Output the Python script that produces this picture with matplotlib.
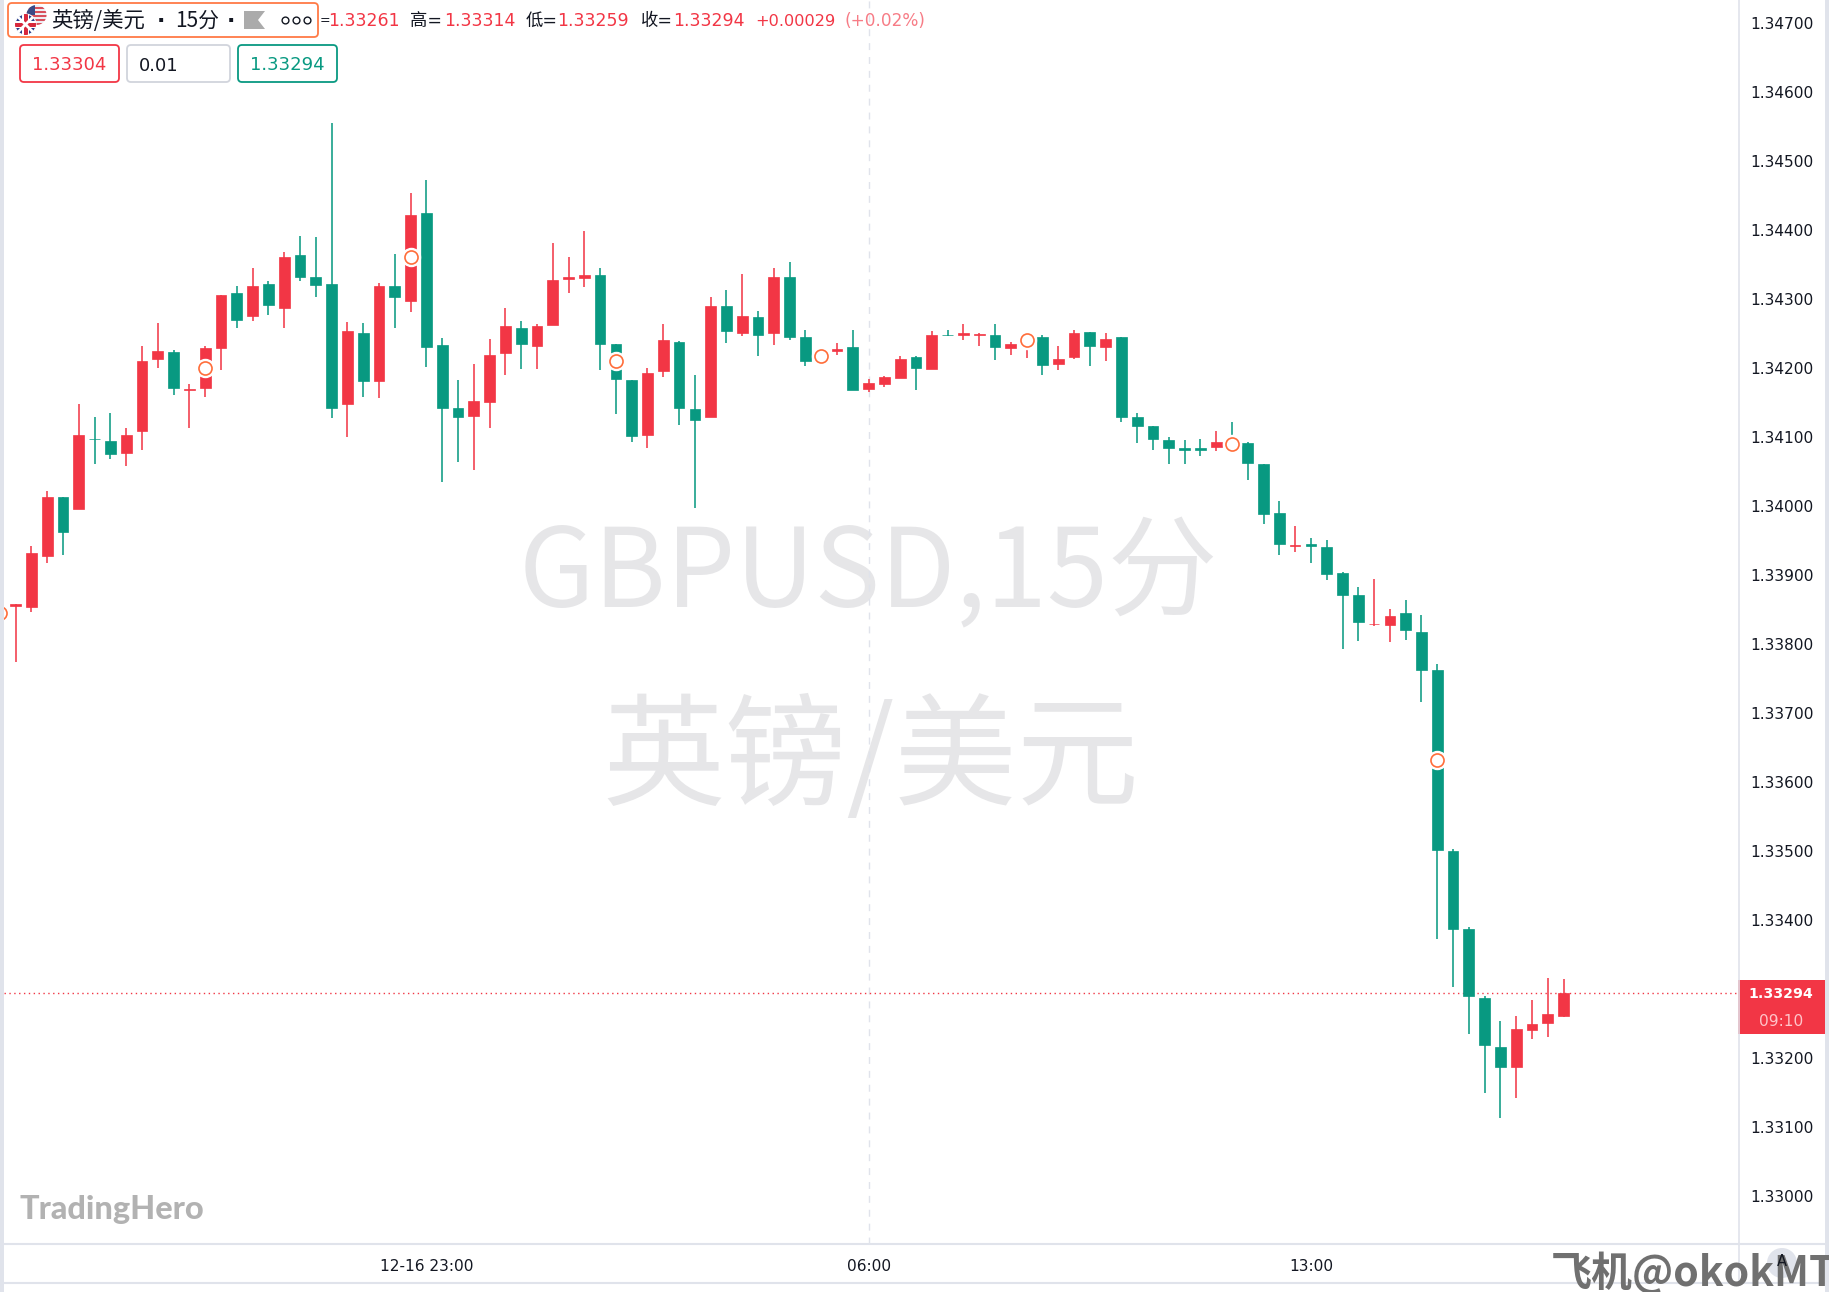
import matplotlib
matplotlib.use('Agg')
import matplotlib.pyplot as plt
from matplotlib.patches import Circle, FancyBboxPatch, Polygon, Rectangle

# 15 minute candles, GBPUSD
opens = [1.33855, 1.33853, 1.33927, 1.34013, 1.33995, 1.34097, 1.34094, 1.34076, 1.34108, 1.34212,
         1.34223, 1.34167, 1.34170, 1.34228, 1.34308, 1.34275, 1.34321, 1.34287, 1.34364, 1.34331,
         1.34321, 1.34147, 1.34250, 1.34180, 1.34318, 1.34297, 1.34424, 1.34233, 1.34142, 1.34130,
         1.34150, 1.34221, 1.34257, 1.34232, 1.34262, 1.34329, 1.34330, 1.34334, 1.34234, 1.34182,
         1.34102, 1.34195, 1.34237, 1.34140, 1.34128, 1.34290, 1.34251, 1.34274, 1.34250, 1.34332,
         1.34245, 1.34214, 1.34224, 1.34230, 1.34169, 1.34177, 1.34185, 1.34215, 1.34198, 1.34248,
         1.34248, 1.34247, 1.34247, 1.34229, 1.34236, 1.34245, 1.34206, 1.34215, 1.34252, 1.34230,
         1.34244, 1.34128, 1.34115, 1.34095, 1.34083, 1.34083, 1.34085, 1.34092, 1.34091, 1.34061,
         1.33989, 1.33941, 1.33944, 1.33940, 1.33903, 1.33871, 1.33828, 1.33827, 1.33844, 1.33817,
         1.33762, 1.33499, 1.33387, 1.33287, 1.33216, 1.33186, 1.33240, 1.33250, 1.33261]
highs = [1.33858, 1.33942, 1.34021, 1.34013, 1.34148, 1.34128, 1.34135, 1.34112, 1.34232, 1.34265,
         1.34225, 1.34177, 1.34232, 1.34306, 1.34318, 1.34344, 1.34325, 1.34368, 1.34391, 1.34390,
         1.34554, 1.34266, 1.34265, 1.34323, 1.34365, 1.34453, 1.34472, 1.34243, 1.34182, 1.34206,
         1.34242, 1.34286, 1.34267, 1.34263, 1.34381, 1.34361, 1.34398, 1.34344, 1.34235, 1.34182,
         1.34199, 1.34263, 1.34239, 1.34190, 1.34302, 1.34312, 1.34336, 1.34282, 1.34344, 1.34353,
         1.34254, 1.34222, 1.34236, 1.34254, 1.34183, 1.34188, 1.34217, 1.34217, 1.34253, 1.34255,
         1.34264, 1.34250, 1.34264, 1.34237, 1.34245, 1.34247, 1.34232, 1.34255, 1.34252, 1.34250,
         1.34244, 1.34135, 1.34115, 1.34099, 1.34095, 1.34097, 1.34108, 1.34121, 1.34092, 1.34061,
         1.34007, 1.33971, 1.33953, 1.33951, 1.33904, 1.33882, 1.33894, 1.33850, 1.33864, 1.33842,
         1.33771, 1.33503, 1.33389, 1.33289, 1.33253, 1.33260, 1.33283, 1.33315, 1.33314]
lows = [1.33774, 1.33846, 1.33917, 1.33928, 1.33995, 1.34060, 1.34067, 1.34058, 1.34080, 1.34199,
        1.34160, 1.34112, 1.34158, 1.34197, 1.34258, 1.34268, 1.34276, 1.34258, 1.34326, 1.34303,
        1.34127, 1.34100, 1.34158, 1.34156, 1.34257, 1.34280, 1.34201, 1.34034, 1.34064, 1.34052,
        1.34112, 1.34190, 1.34198, 1.34198, 1.34262, 1.34308, 1.34317, 1.34196, 1.34133, 1.34092,
        1.34084, 1.34186, 1.34117, 1.33996, 1.34128, 1.34236, 1.34246, 1.34217, 1.34233, 1.34240,
        1.34202, 1.34202, 1.34218, 1.34168, 1.34165, 1.34172, 1.34185, 1.34168, 1.34198, 1.34246,
        1.34240, 1.34231, 1.34211, 1.34219, 1.34214, 1.34190, 1.34197, 1.34213, 1.34202, 1.34209,
        1.34122, 1.34091, 1.34080, 1.34060, 1.34060, 1.34072, 1.34079, 1.34085, 1.34037, 1.33974,
        1.33928, 1.33933, 1.33917, 1.33892, 1.33792, 1.33804, 1.33826, 1.33802, 1.33806, 1.33716,
        1.33372, 1.33302, 1.33235, 1.33149, 1.33112, 1.33141, 1.33227, 1.33230, 1.33259]
closes = [1.33857, 1.33931, 1.34012, 1.33962, 1.34103, 1.34096, 1.34075, 1.34103, 1.34209, 1.34224,
          1.34171, 1.34169, 1.34229, 1.34306, 1.34269, 1.34319, 1.34291, 1.34361, 1.34331, 1.34320,
          1.34141, 1.34253, 1.34181, 1.34319, 1.34302, 1.34422, 1.34230, 1.34142, 1.34128, 1.34152,
          1.34219, 1.34261, 1.34235, 1.34260, 1.34327, 1.34331, 1.34335, 1.34235, 1.34183, 1.34101,
          1.34193, 1.34240, 1.34142, 1.34124, 1.34290, 1.34253, 1.34275, 1.34248, 1.34332, 1.34244,
          1.34209, 1.34219, 1.34227, 1.34168, 1.34178, 1.34186, 1.34212, 1.34199, 1.34248, 1.34247,
          1.34250, 1.34249, 1.34230, 1.34235, 1.34243, 1.34204, 1.34213, 1.34251, 1.34231, 1.34241,
          1.34128, 1.34116, 1.34097, 1.34084, 1.34081, 1.34081, 1.34092, 1.34087, 1.34062, 1.33988,
          1.33944, 1.33943, 1.33941, 1.33901, 1.33870, 1.33831, 1.33829, 1.33840, 1.33820, 1.33762,
          1.33501, 1.33386, 1.33290, 1.33219, 1.33187, 1.33241, 1.33249, 1.33264, 1.33294]

marker_idx = [-1, 12, 25, 38, 51, 64, 77, 90]
marker_px = [1.33845, 1.34199, 1.34360, 1.34209, 1.34217, 1.34240, 1.34090, 1.33632]

# 1.33300 is hidden behind the last price tag
price_ticks = [1.33, 1.331, 1.332, 1.334, 1.335, 1.336, 1.337, 1.338, 1.339, 1.34, 1.341, 1.342, 1.343,
               1.344, 1.345, 1.346, 1.347]
time_idx = [26, 54, 82]
time_labels = ['12-16 23:00', '06:00', '13:00']
last_price = 1.33294

RED = '#F23645'
GREEN = '#089981'
LINE = '#E0E3EB'
CJK = ['Noto Sans CJK SC', 'DejaVu Sans']
plt.rcParams['font.family'] = ['DejaVu Sans', 'Noto Sans CJK SC']

W, H = 1829, 1292
fig = plt.figure(figsize=(W / 100, H / 100), dpi=100, facecolor='white')

# price pane
left, right, bottom = 4, 1738.5, 1243.5
ax = fig.add_axes([left / W, 1 - bottom / H, (right - left) / W, bottom / H])
ax.set_xlim(-0.739, 109.07)
ax.set_ylim(1.329307, 1.347329)
for s in ax.spines.values():
    s.set_visible(False)

idx = list(range(len(opens)))
colors = [RED if c >= o else GREEN for o, c in zip(opens, closes)]
ax.vlines(idx, lows, highs, colors=colors, linewidth=1.4, alpha=0.8, zorder=3)
ax.bar(idx, [abs(c - o) for o, c in zip(opens, closes)], bottom=[min(o, c) for o, c in zip(opens, closes)],
       width=0.68, color=colors, edgecolor=colors, linewidth=0.5, zorder=4)

ax.plot(marker_idx, marker_px, 'o', ms=13, mfc='white', mec='white', zorder=5)
ax.plot(marker_idx, marker_px, 'o', ms=9.4, mfc='white', mec='#FF6D3A', mew=1.2, zorder=6)

ax.axvline(54, color=LINE, lw=1, ls=(0, (5, 5)), zorder=1)
ax.axhline(last_price, color=RED, lw=1, ls=(0, (1, 2.5)), zorder=2)

ax.yaxis.tick_right()
ax.set_yticks(price_ticks)
ax.set_yticklabels(['%.5f' % p for p in price_ticks], fontsize=11.1, color='#131722')
ax.set_xticks(time_idx)
ax.set_xticklabels(time_labels, fontsize=11.1, color='#131722')
ax.tick_params(axis='y', length=0, pad=8.5)
ax.tick_params(axis='x', length=0, pad=11)

# watermark
ax.text(0.4985, 0.5366, 'GBPUSD,15分', transform=ax.transAxes, ha='center', va='center',
        fontsize=79, color='#E6E6E8', family=CJK, zorder=0)
ax.text(0.4995, 0.388, '英镑/美元', transform=ax.transAxes, ha='center', va='center',
        fontsize=88, color='#E6E6E8', family=CJK, zorder=0)

# screen furniture on top, in pixel coordinates
ui = fig.add_axes([0, 0, 1, 1], facecolor='none')
ui.set_xlim(0, W)
ui.set_ylim(H, 0)
ui.axis('off')

ui.add_patch(Rectangle((0, 0), 3.5, H, color=LINE, lw=0))
ui.add_patch(Rectangle((1825, 0), 4, H, color=LINE, lw=0))
ui.plot([right, right], [0, 1283], color=LINE, lw=1.2)
ui.plot([3.5, 1825], [1243.5, 1243.5], color=LINE, lw=1.5)
ui.plot([3.5, 1825], [1282.5, 1282.5], color=LINE, lw=1.5)

# last price tag
ui.add_patch(Rectangle((right - 1, 980), 1825 - right + 1, 54, color=RED, lw=0))
ui.text(1781, 994, '1.33294', color='white', fontsize=10.2, fontweight='bold', ha='center', va='center')
ui.text(1781, 1021, '09:10', color='#FFC4C9', fontsize=11.1, ha='center', va='center')


def box(x0, y0, x1, y1, edge):
    ui.add_patch(FancyBboxPatch((x0 + 4, y0 + 4), x1 - x0 - 8, y1 - y0 - 8, boxstyle='round,pad=4',
                                fc='white', ec=edge, lw=1.3))


box(8, 3, 318, 37, '#FF7A45')
box(20, 45, 119, 82, RED)
box(127, 45, 230, 82, '#D1D4DC')
box(238, 45, 337, 82, GREEN)
ui.text(69.5, 65, '1.33304', color=RED, fontsize=13, ha='center', va='center')
ui.text(139, 66, '0.01', color='#131722', fontsize=13, ha='left', va='center')
ui.text(287.5, 65, '1.33294', color=GREEN, fontsize=13, ha='center', va='center')

# pair flags
us = Circle((36.5, 15), 10, fc='#EDEDF2', ec='none')
ui.add_patch(us)
for y in [7, 11, 15, 19, 23]:
    ui.add_patch(Rectangle((26, y), 22, 2, color='#D8505C', lw=0, clip_path=us))
ui.add_patch(Rectangle((26, 5), 9, 10, color='#3B4A86', lw=0, clip_path=us))
uk = Circle((25.5, 24.5), 10.5, fc='#2B3F8C', ec='white', lw=0.8)
ui.add_patch(uk)
ui.plot([15, 36], [14, 35], color='white', lw=2, clip_path=uk)
ui.plot([15, 36], [35, 14], color='white', lw=2, clip_path=uk)
ui.add_patch(Rectangle((15, 21), 21, 7, color='white', lw=0, clip_path=uk))
ui.add_patch(Rectangle((22, 14), 7, 21, color='white', lw=0, clip_path=uk))
ui.add_patch(Rectangle((15, 22.5), 21, 4, color='#D8283C', lw=0, clip_path=uk))
ui.add_patch(Rectangle((23.5, 14), 4, 21, color='#D8283C', lw=0, clip_path=uk))

# header
ui.text(51.5, 21, '英镑/美元', fontsize=15.4, color='#131722', family=CJK, va='center')
ui.text(161, 21, '·', fontsize=16, fontweight='bold', color='#131722', ha='center', va='center')
ui.text(175, 21, '15分', fontsize=15, color='#131722', family=CJK, va='center')
ui.text(231, 21, '·', fontsize=16, fontweight='bold', color='#131722', ha='center', va='center')
ui.add_patch(Polygon([(244, 11), (265, 11), (258, 20), (265, 29), (244, 29)], color='#ABABAB', lw=0))
for x in [285.5, 296.5, 307.5]:
    ui.add_patch(Circle((x, 20.5), 3.4, fc='white', ec='#131722', lw=1))

header = [(320, '=', '#131722', 9), (328, '1.33261', RED, 12.5), (410, '高=', '#131722', 12.5),
          (444, '1.33314', RED, 12.5), (526, '低=', '#131722', 12.5), (557.6, '1.33259', RED, 12.5),
          (640.6, '收=', '#131722', 12.5), (672.7, '1.33294', RED, 12.5), (755, '+0.00029', RED, 11.6),
          (845, '(+0.02%)', '#F77C86', 12.2)]
for x, t, c, fs in header:
    ui.text(x, 21, t, fontsize=fs, color=c, va='center')

ui.text(20, 1209, 'TradingHero', fontsize=23.4, fontweight='black', color='#B2B2B2', family='Lato', va='center')

# badge and overlaid caption, bottom right
ui.add_patch(Circle((1782, 1263), 15, fc=LINE, ec='none'))
ui.text(1551, 1274, '飞机@okokMT', fontsize=29.5, fontweight='bold', color='#707070',
        family=CJK, va='center', clip_on=True)
ui.text(1782, 1262, 'A', fontsize=10.5, color='#131722', ha='center', va='center', zorder=10)

fig.savefig('out.png', dpi=100)
